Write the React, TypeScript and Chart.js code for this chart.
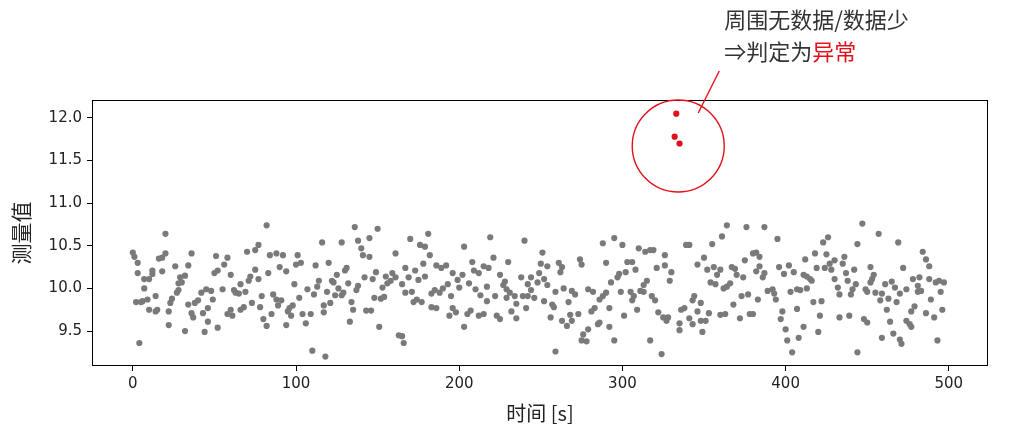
import { useEffect, useRef } from 'react';
import { Chart, registerables } from 'chart.js';

Chart.register(...registerables);

// ---- axis settings ----
const xTicks = [0, 100, 200, 300, 400, 500];
const yTicks = [9.5, 10.0, 10.5, 11.0, 11.5, 12.0];
const xMin = -25;
const xMax = 524;
const yMin = 9.09;
const yMax = 12.21;
const xTitle = '时间 [s]';
const yTitle = '测量值';

// ---- normal measurements [time s, value] ----
const gray000: [number, number][] = [
  [0, 10.42], [1, 10.37], [2, 9.84], [3, 10.18], [3, 10.30], [4, 9.36], [5, 9.84], [6, 9.85], [7, 10.11], [7, 10.00],
  [9, 9.87], [10, 9.75], [10, 10.11], [12, 10.21], [12, 10.17], [14, 9.91], [14, 9.73], [15, 9.75], [16, 10.35], [18, 10.20],
  [18, 10.36], [20, 10.64], [20, 10.41], [22, 9.57], [22, 9.73], [23, 9.83], [24, 9.88], [26, 10.26], [27, 9.95], [28, 10.06],
  [28, 9.98], [29, 10.13], [30, 10.07], [32, 9.50], [32, 10.15], [34, 10.27], [34, 9.81], [36, 10.41], [36, 9.71], [37, 9.66],
  [38, 9.83], [40, 9.86], [42, 9.95], [43, 9.71], [44, 9.49], [45, 9.99], [46, 9.77], [46, 9.61], [48, 9.97], [49, 9.87],
  [50, 10.18], [51, 10.38], [52, 10.21], [52, 9.54],
];
const gray055: [number, number][] = [
  [82, 10.74], [77, 10.51], [75, 10.45], [70, 10.43], [58, 10.36], [56, 10.28], [60, 10.16], [84, 10.39], [88, 10.41], [92, 10.39],
  [101, 10.39], [90, 10.25], [83, 10.18], [94, 10.20], [100, 10.28], [103, 10.30], [75, 10.22], [72, 10.14], [71, 10.09], [77, 10.11],
  [66, 10.05], [55, 9.99], [62, 9.98], [63, 9.95], [65, 9.94], [69, 9.96], [99, 10.05], [107, 9.99], [79, 9.91], [86, 9.93],
  [88, 9.87], [91, 9.86], [73, 9.83], [78, 9.78], [89, 9.80], [102, 9.89], [98, 9.80], [96, 9.77], [95, 9.73], [68, 9.78],
  [66, 9.75], [60, 9.75], [58, 9.70], [61, 9.68], [85, 9.70], [97, 9.68], [104, 9.70], [106, 9.59], [80, 9.64], [82, 9.56],
  [94, 9.57],
];
const gray110: [number, number][] = [
  [136, 10.72], [150, 10.70], [116, 10.54], [128, 10.54], [138, 10.56], [145, 10.59], [140, 10.47], [141, 10.39], [145, 10.37], [161, 10.41],
  [112, 10.27], [120, 10.30], [130, 10.21], [131, 10.24], [125, 10.16], [114, 10.09], [122, 10.09], [123, 10.07], [132, 10.06], [138, 10.03],
  [137, 9.98], [142, 10.13], [147, 10.11], [149, 10.19], [155, 10.14], [159, 10.18], [161, 10.13], [158, 10.09], [156, 10.06], [153, 10.01],
  [113, 10.02], [111, 9.93], [119, 9.96], [126, 10.00], [124, 9.92], [128, 9.92], [129, 9.95], [148, 9.89], [152, 9.88], [154, 9.90],
  [109, 9.70], [117, 9.80], [117, 9.72], [121, 9.83], [134, 9.84], [135, 9.75], [143, 9.74], [146, 9.74], [133, 9.61], [151, 9.55],
  [163, 9.45], [110, 9.27], [118, 9.20],
];
const gray165: [number, number][] = [
  [181, 10.64], [170, 10.58], [176, 10.51], [179, 10.49], [203, 10.49], [219, 10.60], [182, 10.39], [178, 10.29], [167, 10.24], [173, 10.21],
  [186, 10.27], [189, 10.24], [192, 10.27], [208, 10.31], [209, 10.21], [212, 10.18], [215, 10.26], [218, 10.24], [196, 10.18], [202, 10.16],
  [169, 10.13], [175, 10.10], [179, 10.14], [199, 10.10], [165, 10.05], [206, 10.06], [193, 10.05], [190, 10.00], [200, 10.01], [210, 9.99],
  [217, 10.02], [185, 9.98], [188, 9.95], [183, 9.94], [167, 9.95], [171, 9.96], [213, 9.92], [195, 9.91], [217, 9.85], [172, 9.84],
  [174, 9.87], [177, 9.84], [183, 9.78], [186, 9.77], [196, 9.77], [198, 9.72], [207, 9.74], [205, 9.70], [194, 9.68], [212, 9.68],
  [215, 9.70], [203, 9.55], [165, 9.44], [166, 9.36],
];
const gray220: [number, number][] = [
  [240, 10.56], [251, 10.42], [250, 10.29], [254, 10.26], [261, 10.30], [263, 10.25], [262, 10.19], [274, 10.34], [275, 10.28], [230, 10.31],
  [221, 10.36], [225, 10.16], [249, 10.18], [238, 10.13], [244, 10.13], [252, 10.11], [228, 10.08], [227, 10.04], [242, 10.05], [248, 10.07],
  [254, 10.04], [229, 9.99], [231, 9.95], [244, 9.98], [259, 9.96], [264, 10.00], [269, 9.97], [271, 9.93], [222, 9.91], [229, 9.89],
  [234, 9.91], [239, 9.91], [242, 9.91], [246, 9.89], [252, 9.85], [267, 9.84], [235, 9.82], [257, 9.81], [258, 9.78], [241, 9.77],
  [232, 9.73], [223, 9.68], [225, 9.64], [235, 9.65], [256, 9.66], [263, 9.62], [266, 9.56], [268, 9.69], [269, 9.62], [273, 9.70],
  [276, 9.46], [275, 9.39], [259, 9.26],
];
const gray280: [number, number][] = [
  [295, 10.59], [288, 10.53], [300, 10.51], [310, 10.47], [314, 10.43], [317, 10.45], [319, 10.45], [326, 10.39], [290, 10.30], [303, 10.31],
  [306, 10.31], [326, 10.27], [321, 10.24], [308, 10.22], [302, 10.19], [330, 10.19], [329, 10.09], [298, 10.17], [297, 10.13], [293, 10.07],
  [315, 10.09], [313, 10.04], [311, 9.97], [313, 9.96], [279, 9.99], [282, 9.96], [290, 9.95], [288, 9.91], [286, 9.87], [299, 9.96],
  [305, 9.96], [307, 9.91], [306, 9.86], [318, 9.91], [320, 9.86], [283, 9.77], [281, 9.73], [292, 9.77], [309, 9.75], [322, 9.72],
  [325, 9.66], [327, 9.62], [328, 9.66], [301, 9.68], [286, 9.60], [285, 9.58], [292, 9.55], [279, 9.52], [278, 9.38], [295, 9.39],
  [317, 9.39], [324, 9.23],
];
const gray335: [number, number][] = [
  [364, 10.74], [376, 10.72], [387, 10.72], [361, 10.61], [339, 10.51], [341, 10.51], [355, 10.52], [350, 10.36], [346, 10.28], [375, 10.33],
  [380, 10.41], [382, 10.42], [384, 10.37], [352, 10.22], [356, 10.25], [360, 10.22], [367, 10.25], [369, 10.23], [384, 10.26], [382, 10.20],
  [387, 10.18], [358, 10.16], [370, 10.16], [374, 10.13], [386, 10.13], [354, 10.07], [357, 10.05], [362, 10.00], [364, 10.02], [366, 10.06],
  [344, 9.91], [343, 9.86], [348, 9.83], [373, 9.91], [377, 9.93], [383, 9.87], [368, 9.81], [338, 9.77], [336, 9.75], [346, 9.73],
  [353, 9.71], [360, 9.69], [363, 9.70], [378, 9.70], [380, 9.70], [341, 9.65], [348, 9.62], [351, 9.62], [372, 9.65], [335, 9.59],
  [343, 9.58], [335, 9.51], [349, 9.49],
];
const gray390: [number, number][] = [
  [395, 10.58], [426, 10.60], [423, 10.54], [444, 10.52], [418, 10.41], [425, 10.40], [412, 10.34], [436, 10.37], [430, 10.33], [427, 10.29],
  [435, 10.29], [396, 10.25], [402, 10.27], [419, 10.24], [424, 10.24], [428, 10.22], [442, 10.22], [399, 10.17], [405, 10.19], [411, 10.16],
  [413, 10.14], [437, 10.18], [415, 10.11], [416, 10.09], [430, 10.11], [438, 10.09], [443, 10.05], [432, 10.01], [441, 9.99], [440, 9.93],
  [433, 9.93], [389, 9.97], [392, 9.99], [393, 9.94], [394, 9.87], [403, 9.96], [407, 9.99], [409, 9.98], [413, 10.00], [417, 9.84],
  [422, 9.85], [398, 9.73], [407, 9.76], [397, 9.64], [421, 9.68], [433, 9.66], [439, 9.68], [400, 9.52], [411, 9.55], [420, 9.49],
  [401, 9.39], [408, 9.42], [404, 9.25], [444, 9.25],
];
const gray445: [number, number][] = [
  [447, 10.76], [457, 10.64], [469, 10.54], [484, 10.43], [486, 10.34], [488, 10.26], [452, 10.25], [472, 10.24], [454, 10.16], [453, 10.11],
  [452, 10.07], [478, 10.11], [482, 10.13], [488, 10.11], [492, 10.07], [494, 10.09], [497, 10.07], [461, 10.05], [465, 10.08], [467, 10.01],
  [481, 10.03], [483, 9.97], [481, 9.96], [449, 9.99], [450, 9.96], [455, 9.95], [459, 9.94], [470, 9.94], [474, 9.99], [495, 9.96],
  [463, 9.88], [458, 9.86], [468, 9.84], [489, 9.87], [479, 9.79], [477, 9.73], [496, 9.75], [462, 9.75], [486, 9.71], [491, 9.66],
  [448, 9.64], [450, 9.60], [464, 9.61], [474, 9.62], [476, 9.58], [477, 9.55], [466, 9.47], [459, 9.42], [470, 9.40], [471, 9.35],
  [493, 9.39],
];

// ---- anomalies ----
const anomalyTimes = [333, 332, 335];
const anomalyValues = [12.05, 11.78, 11.70];
const anomalyCenter = { t: 334.2, v: 11.67 };

// ---- annotation text ----
const noteLine1 = '周围无数据/数据少';
const noteLine2 = '⇒判定为';
const noteLine2Red = '异常';

const GRAY = '#7a7a7a';
const RED = '#e3101b';
const CJK = '"Noto Sans CJK SC", "Noto Sans CJK JP", sans-serif';
const TICK_FONT = '"DejaVu Sans", sans-serif';

const annotationPlugin = {
  id: 'anomalyAnnotation',
  afterDatasetsDraw(chart: any) {
    const { ctx, chartArea: a, scales } = chart;
    const xs = scales.x;
    const ys = scales.y;
    ctx.save();
    // axes frame
    ctx.strokeStyle = '#000';
    ctx.lineWidth = 1;
    ctx.strokeRect(Math.round(a.left) + 0.5, Math.round(a.top) + 0.5, Math.round(a.right - a.left) - 1, Math.round(a.bottom - a.top) - 1);

    // circle around anomalies
    const cx = xs.getPixelForValue(anomalyCenter.t);
    const cy = ys.getPixelForValue(anomalyCenter.v);
    ctx.strokeStyle = RED;
    ctx.lineWidth = 1.4;
    ctx.beginPath();
    ctx.arc(cx, cy, 46, 0, Math.PI * 2);
    ctx.stroke();
    // leader line
    ctx.beginPath();
    ctx.moveTo(cx + 20, cy - 33);
    ctx.lineTo(cx + 41, cy - 75);
    ctx.stroke();

    // note text
    const tx = cx + 46;
    ctx.font = `22px ${CJK}`;
    ctx.textBaseline = 'middle';
    ctx.textAlign = 'left';
    ctx.fillStyle = '#333';
    ctx.fillText(noteLine1, tx, a.top - 80);
    ctx.fillText(noteLine2, tx, a.top - 48);
    const w = ctx.measureText(noteLine2).width;
    ctx.fillStyle = RED;
    ctx.fillText(noteLine2Red, tx + w, a.top - 48);
    ctx.restore();
  },
};

export default function App() {
  const ref = useRef<HTMLCanvasElement | null>(null);

  useEffect(() => {
    document.body.style.margin = '0';
    const canvas = ref.current;
    if (!canvas) return;
    const grayPoints = [
      ...gray000, ...gray055, ...gray110, ...gray165, ...gray220,
      ...gray280, ...gray335, ...gray390, ...gray445,
    ].map(([t, v]) => ({ x: t, y: v }));
    const redPoints = anomalyTimes.map((t, i) => ({ x: t, y: anomalyValues[i] }));

    const chart = new Chart(canvas, {
      type: 'scatter',
      data: {
        datasets: [
          {
            data: grayPoints,
            backgroundColor: GRAY,
            borderWidth: 0,
            pointRadius: 3.1,
            pointHoverRadius: 3.1,
          },
          {
            data: redPoints,
            backgroundColor: RED,
            borderWidth: 0,
            pointRadius: 3.1,
            pointHoverRadius: 3.1,
          },
        ],
      },
      options: {
        animation: false,
        responsive: false,
        devicePixelRatio: 1,
        layout: { padding: { left: 0, right: 21, top: 100, bottom: 0 } },
        plugins: {
          legend: { display: false },
          tooltip: { enabled: false },
        },
        events: [],
        scales: {
          x: {
            type: 'linear',
            min: xMin,
            max: xMax,
            afterFit: (s: any) => { s.height = 66; },
            afterBuildTicks: (s: any) => { s.ticks = xTicks.map((v) => ({ value: v })); },
            grid: { drawOnChartArea: false, drawTicks: true, tickLength: 5, tickColor: '#000', tickWidth: 1 },
            border: { display: false },
            ticks: {
              padding: 4,
              color: '#222',
              font: { family: TICK_FONT, size: 15 },
              maxRotation: 0,
              callback: (v: any) => String(v),
            },
            title: {
              display: true,
              text: xTitle,
              color: '#222',
              font: { family: CJK, size: 20 },
              padding: { top: 0, bottom: 7 },
            },
          },
          y: {
            type: 'linear',
            min: yMin,
            max: yMax,
            afterFit: (s: any) => { s.width = 92; },
            afterBuildTicks: (s: any) => { s.ticks = yTicks.map((v) => ({ value: v })); },
            grid: { drawOnChartArea: false, drawTicks: true, tickLength: 5, tickColor: '#000', tickWidth: 1 },
            border: { display: false },
            ticks: {
              padding: 5,
              color: '#222',
              font: { family: TICK_FONT, size: 15 },
              callback: (v: any) => Number(v).toFixed(1),
            },
            title: {
              display: true,
              text: yTitle,
              color: '#222',
              font: { family: CJK, size: 21 },
              padding: { top: 8, bottom: 0 },
            },
          },
        },
      },
      plugins: [annotationPlugin],
    });
    return () => chart.destroy();
  }, []);

  return (
    <div style={{ position: 'fixed', left: 0, top: 0, width: 1009, height: 432, background: '#fff' }}>
      <canvas ref={ref} width={1009} height={432} style={{ display: 'block' }} />
    </div>
  );
}
